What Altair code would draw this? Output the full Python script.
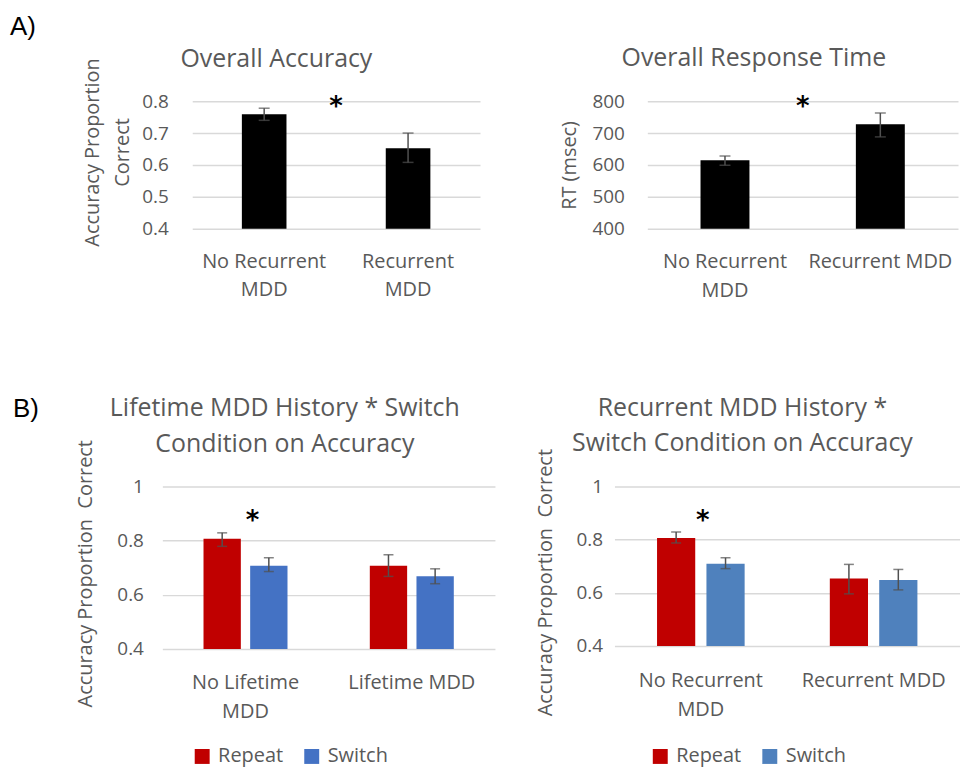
import altair as alt
import pandas as pd

FONT = "Open Sans"
TEXT_GRAY = "#595959"
GRID_GRAY = "#D9D9D9"
ERR_GRAY = "#505050"

# ---------------- data ----------------
a1_groups = ["No Recurrent\nMDD", "Recurrent\nMDD"]
a1_mean = [0.759, 0.652]
a1_low = [0.740, 0.608]
a1_high = [0.778, 0.700]

a2_groups = ["No Recurrent\nMDD", "Recurrent MDD"]
a2_mean = [615, 728]
a2_low = [599, 688]
a2_high = [628, 763]

conditions = ["Repeat", "Switch"]

b1_groups = ["No Lifetime\nMDD", "Lifetime MDD"]
b1_repeat = [0.807, 0.707]
b1_repeat_low = [0.779, 0.668]
b1_repeat_high = [0.829, 0.748]
b1_switch = [0.707, 0.669]
b1_switch_low = [0.686, 0.641]
b1_switch_high = [0.737, 0.696]

b2_groups = ["No Recurrent\nMDD", "Recurrent MDD"]
b2_repeat = [0.806, 0.654]
b2_repeat_low = [0.788, 0.596]
b2_repeat_high = [0.829, 0.707]
b2_switch = [0.709, 0.648]
b2_switch_low = [0.691, 0.611]
b2_switch_high = [0.732, 0.688]


def y_axis(tick_count, fmt, title, tx, ty, label_pad):
    return alt.Axis(tickCount=tick_count, format=fmt, title=title, titleX=tx, titleY=ty,
                    titleAngle=270, titleBaseline="middle", titleAlign="center",
                    titleFontSize=20, titleFontWeight="normal", titleColor=TEXT_GRAY,
                    titleFont=FONT, titleLineHeight=30,
                    labelFontSize=19, labelColor=TEXT_GRAY, labelFont=FONT,
                    labelPadding=label_pad, ticks=False, domain=False,
                    grid=True, gridColor=GRID_GRAY, gridWidth=1.5)


def x_axis(line_h, pad):
    return alt.Axis(title=None, labelAngle=0, labelExpr="split(datum.label, '\\n')",
                    labelFontSize=20, labelColor=TEXT_GRAY, labelFont=FONT,
                    labelLineHeight=line_h, labelPadding=pad, labelBaseline="top",
                    ticks=False, domain=False, grid=False, labelOverlap=False)


def panel_title(text, dx, offset, line_h=30):
    return alt.Title(text, fontSize=25, color=TEXT_GRAY, font=FONT, fontWeight="normal",
                     anchor="middle", frame="group", dx=dx, offset=offset, lineHeight=line_h)


def single_panel(groups, mean, low, high, width, height, domain, tick_count, fmt, pad_inner,
                 title, title_dx, title_offset, ytitle, ytx, yty, ylabpad,
                 xline_h, xpad, star_y):
    df = pd.DataFrame({"group": groups, "mean": mean, "low": low, "high": high})
    xs = alt.Scale(domain=groups, paddingInner=pad_inner, paddingOuter=pad_inner / 2)
    ys = alt.Scale(domain=domain, nice=False, zero=False)
    xa = x_axis(xline_h, xpad)
    ya = y_axis(tick_count, fmt, ytitle, ytx, yty, ylabpad)
    base = alt.Chart(df)
    bars = base.mark_bar(color="black").encode(
        x=alt.X("group:N", scale=xs, axis=xa),
        y=alt.Y("mean:Q", scale=ys, axis=ya),
        y2=alt.datum(domain[0]),
    )
    rules = base.mark_rule(color=ERR_GRAY, strokeWidth=1.5).encode(
        x=alt.X("group:N", scale=xs, axis=xa),
        y=alt.Y("low:Q", scale=ys, axis=ya),
        y2="high:Q",
    )
    caps = base.transform_fold(["low", "high"], as_=["end", "val"]).mark_tick(
        color=ERR_GRAY, thickness=1.5, size=11, orient="horizontal"
    ).encode(
        x=alt.X("group:N", scale=xs, axis=xa),
        y=alt.Y("val:Q", scale=ys, axis=ya),
    )
    star = alt.Chart(pd.DataFrame({"s": ["*"], "v": [star_y]})).mark_text(
        font="DejaVu Sans", fontSize=26, fontWeight="bold", color="black",
        baseline="alphabetic", dy=14
    ).encode(
        x=alt.value(width / 2),
        y=alt.Y("v:Q", scale=ys, axis=ya),
        text="s:N",
    )
    return alt.layer(bars, rules, caps, star).properties(
        width=width, height=height, title=panel_title(title, title_dx, title_offset)
    )


def grouped_panel(groups, rep, rep_lo, rep_hi, sw, sw_lo, sw_hi, colors, width, height,
                  pad_inner, pad_inner2, title, title_dx, title_offset, title_lh,
                  ytitle, ytx, yty, ylabpad, xline_h, xpad, legend_x, legend_y,
                  star_y, star_dx):
    rows = []
    for i, g in enumerate(groups):
        rows.append({"group": g, "cond": conditions[0], "mean": rep[i], "low": rep_lo[i], "high": rep_hi[i]})
        rows.append({"group": g, "cond": conditions[1], "mean": sw[i], "low": sw_lo[i], "high": sw_hi[i]})
    df = pd.DataFrame(rows)
    xs = alt.Scale(domain=groups, paddingInner=pad_inner, paddingOuter=pad_inner / 2)
    xos = alt.Scale(domain=conditions, paddingInner=pad_inner2, paddingOuter=0)
    ys = alt.Scale(domain=[0.4, 1.0], nice=False, zero=False)
    xa = x_axis(xline_h, xpad)
    ya = y_axis(3, ".1~f", ytitle, ytx, yty, ylabpad)
    base = alt.Chart(df)
    bars = base.mark_bar().encode(
        x=alt.X("group:N", scale=xs, axis=xa),
        xOffset=alt.XOffset("cond:N", scale=xos),
        y=alt.Y("mean:Q", scale=ys, axis=ya),
        y2=alt.datum(0.4),
        color=alt.Color("cond:N", scale=alt.Scale(domain=conditions, range=colors),
                        legend=alt.Legend(orient="none", legendX=legend_x, legendY=legend_y,
                                          direction="horizontal", title=None,
                                          symbolType="square", symbolSize=225,
                                          symbolStrokeWidth=0, symbolOpacity=1,
                                          labelFontSize=20, labelColor=TEXT_GRAY,
                                          labelFont=FONT, labelOffset=6,
                                          columnPadding=18, padding=0)),
    )
    rules = base.mark_rule(color=ERR_GRAY, strokeWidth=1.5).encode(
        x=alt.X("group:N", scale=xs, axis=xa),
        xOffset=alt.XOffset("cond:N", scale=xos),
        y=alt.Y("low:Q", scale=ys, axis=ya),
        y2="high:Q",
    )
    caps = base.transform_fold(["low", "high"], as_=["end", "val"]).mark_tick(
        color=ERR_GRAY, thickness=1.5, size=10, orient="horizontal"
    ).encode(
        x=alt.X("group:N", scale=xs, axis=xa),
        xOffset=alt.XOffset("cond:N", scale=xos),
        y=alt.Y("val:Q", scale=ys, axis=ya),
    )
    star = alt.Chart(pd.DataFrame({"group": [groups[0]], "s": ["*"], "v": [star_y]})).mark_text(
        font="DejaVu Sans", fontSize=26, fontWeight="bold", color="black",
        baseline="alphabetic", dy=14, dx=star_dx
    ).encode(
        x=alt.X("group:N", scale=xs, axis=xa),
        y=alt.Y("v:Q", scale=ys, axis=ya),
        text="s:N",
    )
    return alt.layer(bars, rules, caps, star).properties(
        width=width, height=height,
        title=panel_title(title, title_dx, title_offset, title_lh),
    )


def spacer(label, width, height, offset, dx):
    return alt.Chart(pd.DataFrame({"t": [""]})).mark_text().encode(
        text="t:N", x=alt.value(0), y=alt.value(0)
    ).properties(
        width=width, height=height,
        title=alt.Title(label, anchor="start", frame="group", fontSize=26,
                        font="Liberation Sans", fontWeight="normal", color="black",
                        offset=offset, dx=dx),
    )


a1 = single_panel(a1_groups, a1_mean, a1_low, a1_high, 289, 128, [0.4, 0.8], 4, ".1f", 0.69,
                  "Overall Accuracy", -60, -14, ["Accuracy Proportion", "Correct"], -100, 51, 24,
                  28.5, 23, 0.8)
a2 = single_panel(a2_groups, a2_mean, a2_low, a2_high, 312, 128, [400, 800], 4, "d", 0.685,
                  "Overall Response Time", -49, 21, "RT (msec)", -78, 64, 23,
                  29, 23, 800)

b1 = grouped_panel(b1_groups, b1_repeat, b1_repeat_low, b1_repeat_high,
                   b1_switch, b1_switch_low, b1_switch_high, ["#C00000", "#4472C4"],
                   334, 163, 0.495, 0.2,
                   ["Lifetime MDD History * Switch", "Condition on Accuracy"], -44, -18, 37,
                   "Accuracy Proportion\u00a0 Correct", -77, 87, 19, 28.5, 24, 30, 261,
                   0.893, 7)
b2 = grouped_panel(b2_groups, b2_repeat, b2_repeat_low, b2_repeat_high,
                   b2_switch, b2_switch_low, b2_switch_high, ["#C00000", "#4F81BD"],
                   347, 160, 0.493, 0.227,
                   ["Recurrent MDD History *", "Switch Condition on Accuracy"], -45, -8, 35.5,
                   "Accuracy Proportion\u00a0 Correct", -69, 96, 12, 28.5, 25, 36, 261,
                   0.891, 2)

row_a = alt.hconcat(spacer("A)", 15, 128, 55, 0), a1, a2, spacing=168, bounds="flush")
row_b = alt.hconcat(spacer("B)", 33, 163, 59, 3), b1, b2, spacing=120, bounds="flush").resolve_scale(
    color="independent", xOffset="independent", x="independent", y="independent"
).resolve_legend(color="independent")

chart = alt.vconcat(row_a, row_b, spacing=387, bounds="flush").resolve_scale(
    color="independent"
).properties(
    padding={"left": 2, "top": 5, "right": 0, "bottom": 0}
).configure(font=FONT).configure_view(strokeWidth=0)

chart.save("out.html", embed_options={"renderer": "svg", "actions": False})
